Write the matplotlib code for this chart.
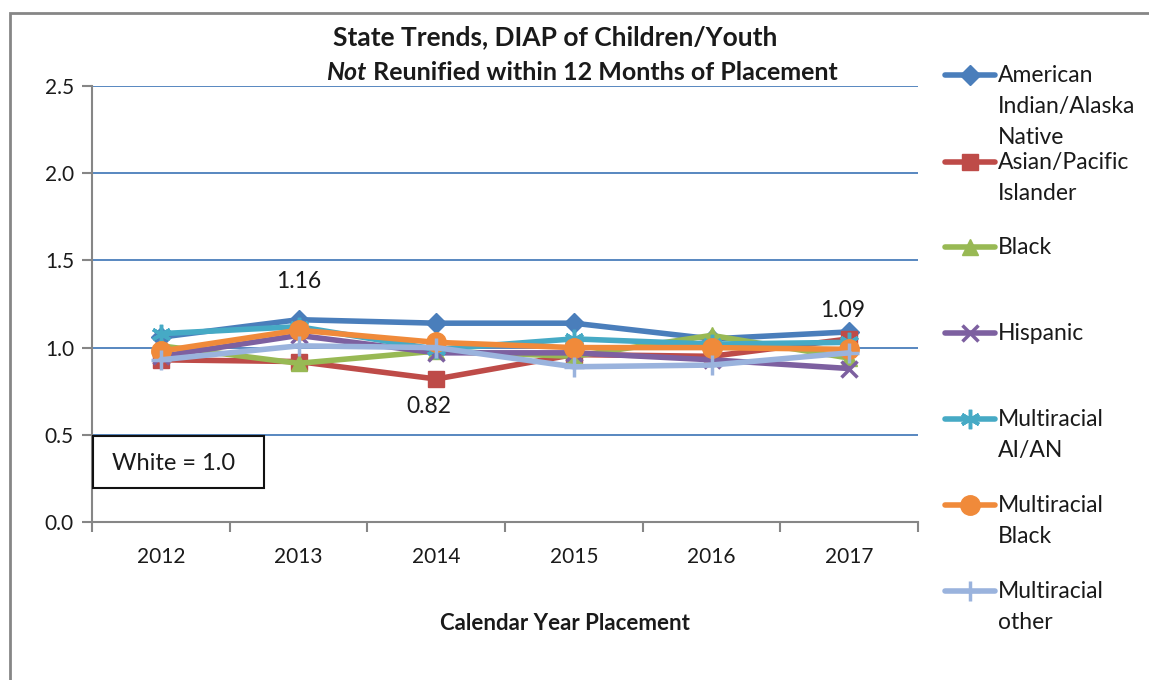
import matplotlib
matplotlib.use("Agg")
import matplotlib.pyplot as plt
from matplotlib.lines import Line2D
from matplotlib.patches import Rectangle
import numpy as np

plt.rcParams['font.family'] = ['Lato', 'DejaVu Sans']

years = ["2012", "2013", "2014", "2015", "2016", "2017"]
series_names = [
    "American\nIndian/Alaska\nNative",
    "Asian/Pacific\nIslander",
    "Black",
    "Hispanic",
    "Multiracial\nAI/AN",
    "Multiracial\nBlack",
    "Multiracial\nother",
]
ai_an = [1.06, 1.16, 1.14, 1.14, 1.05, 1.09]
asian_pi = [0.93, 0.92, 0.82, 0.96, 0.95, 1.05]
black = [1.01, 0.91, 0.98, 0.95, 1.07, 0.94]
hispanic = [0.95, 1.07, 0.97, 0.97, 0.93, 0.88]
multi_aian = [1.08, 1.12, 0.99, 1.05, 1.02, 1.03]
multi_black = [0.98, 1.10, 1.03, 1.00, 1.00, 0.99]
multi_other = [0.93, 1.01, 1.00, 0.89, 0.90, 0.97]
all_series = [ai_an, asian_pi, black, hispanic, multi_aian, multi_black, multi_other]

colors = ["#4A7EBB", "#BE4B48", "#98B954", "#7D60A0", "#46AAC5", "#F08A3A", "#9AB3DD"]
markers = ["D", "s", "^", "x", (6, 2, 0), "o", "+"]
msizes = [10, 12, 12, 11, 14, 14, 14]
TXT = "#1a1a1a"

W, H = 1149, 680
fig = plt.figure(figsize=(W / 100, H / 100), dpi=100)

def fx(px):
    return px / W

def fy(py):
    return 1 - py / H

def mew_for(m):
    return 2.5 if (m in ("x", "+") or isinstance(m, tuple)) else 1

ax = fig.add_axes([fx(92), fy(522), fx(918) - fx(92), fy(86) - fy(522)])
x = np.arange(len(years))

for vals, c, m, ms in zip(all_series, colors, markers, msizes):
    ax.plot(x, vals, color=c, lw=4, marker=m, ms=ms, mew=mew_for(m),
            mec=c, mfc=c, solid_joinstyle="round", solid_capstyle="round", zorder=3)

ax.set_xlim(-0.5, len(years) - 0.5)
ax.set_ylim(0, 2.5)
ax.set_yticks([0, 0.5, 1.0, 1.5, 2.0, 2.5])
ax.set_yticklabels(["0.0", "0.5", "1.0", "1.5", "2.0", "2.5"])
ax.set_xticks(x)
ax.set_xticklabels(years)
ax.set_xticks(np.arange(-0.5, len(years), 1.0), minor=True)
ax.tick_params(axis="x", which="major", length=0, pad=18, labelsize=15, colors=TXT)
ax.tick_params(axis="x", which="minor", length=7, width=1.5, color="#868686", direction="out")
ax.tick_params(axis="y", length=7, width=1.5, color="#868686", direction="out", labelsize=15,
               labelcolor=TXT, pad=6)
for s in ["top", "right"]:
    ax.spines[s].set_visible(False)
for s in ["left", "bottom"]:
    ax.spines[s].set_color("#868686")
    ax.spines[s].set_linewidth(1.5)
for yv in [0.5, 1.0, 1.5, 2.0, 2.5]:
    ax.axhline(yv, color="#4A7EBB", lw=1.3, zorder=1)

# data labels
ax.annotate("1.16", (1, ai_an[1]), xytext=(0, 20), textcoords="offset points", ha="center", va="bottom",
            fontsize=16.5, color=TXT)
ax.annotate("0.82", (2, asian_pi[2]), xytext=(-5, -12), textcoords="offset points", ha="center", va="top",
            fontsize=16.5, color=TXT)
ax.annotate("1.09", (5, ai_an[5]), xytext=(-5, 8), textcoords="offset points", ha="center", va="bottom",
            fontsize=16.5, color=TXT)

fig.text(fx(565), fy(624), "Calendar Year Placement", fontsize=16, fontweight="bold", ha="center",
         va="center", color=TXT)

# White = 1.0 box
fig.text(fx(112), fy(464), "White = 1.0", fontsize=17, va="center", ha="left", color=TXT)
fig.add_artist(Rectangle((fx(93), fy(488)), fx(264) - fx(93), fy(436) - fy(488), transform=fig.transFigure,
                         fill=False, ec="#111111", lw=1.5))

# title
fig.text(fx(555), fy(37), "State Trends, DIAP of Children/Youth", fontsize=19, fontweight="bold",
         ha="center", va="center", color=TXT)
renderer = fig.canvas.get_renderer()
t_not = fig.text(0, fy(72), "Not", fontsize=18, fontweight="bold", style="italic",
                 ha="left", va="center", color=TXT)
t_rest = fig.text(0, fy(72), " Reunified within 12 Months of Placement", fontsize=18, fontweight="bold",
                  ha="left", va="center", color=TXT)
w1 = t_not.get_window_extent(renderer).width
w2 = t_rest.get_window_extent(renderer).width
start = 582 - (w1 + w2) / 2
t_not.set_x(fx(start))
t_rest.set_x(fx(start + w1))

# legend (manual)
leg_y = [75, 162, 247, 333, 419, 505, 591]
for name, c, m, ms, ly in zip(series_names, colors, markers, msizes, leg_y):
    fig.add_artist(Line2D([fx(945), fx(995)], [fy(ly), fy(ly)], transform=fig.transFigure, color=c, lw=4,
                          solid_capstyle="round"))
    fig.add_artist(Line2D([fx(970)], [fy(ly)], transform=fig.transFigure, color=c, marker=m, ms=ms,
                          mec=c, mfc=c, mew=mew_for(m), lw=0))
    fig.text(fx(998), fy(ly - 10), name, fontsize=16.5, ha="left", va="top", color=TXT,
             linespacing=1.58)

# outer border
fig.add_artist(Rectangle((fx(10), fy(700)), fx(1200) - fx(10), fy(13) - fy(700), transform=fig.transFigure,
                         fill=False, ec="#868686", lw=2))

fig.savefig("out.png", dpi=100)
